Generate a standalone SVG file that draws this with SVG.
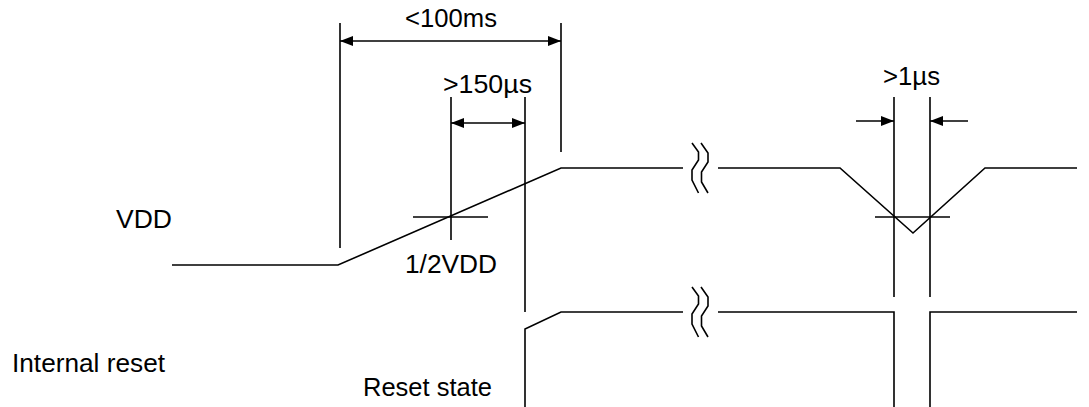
<svg xmlns="http://www.w3.org/2000/svg" width="1089" height="407" viewBox="0 0 1089 407">
<style>
.w{fill:none;stroke:#000;stroke-width:1.6;stroke-linejoin:miter}
.t{font-family:"Liberation Sans",Arial,sans-serif;font-size:26px;fill:#000}
</style>
<defs>
<marker id="ah" viewBox="0 0 13 10" refX="13" refY="5" markerWidth="13" markerHeight="10" markerUnits="userSpaceOnUse" orient="auto-start-reverse">
<path d="M0,0 L13,5 L0,10 Z" fill="#000"/>
</marker>
<g id="brk">
<polyline class="w" points="692,143 698.5,152 698.5,160 692,170 692,180 698.5,193"/>
<polyline class="w" points="701,143 708,153 708,162 701.5,172 701.5,182 708,193"/>
</g>
</defs>
<rect width="1089" height="407" fill="#fff"/>
<g id="labels">
<text class="t" x="116" y="228" textLength="56" lengthAdjust="spacingAndGlyphs">VDD</text>
<text class="t" x="12" y="372" textLength="153" lengthAdjust="spacingAndGlyphs">Internal reset</text>
<text class="t" x="363" y="396" textLength="129" lengthAdjust="spacingAndGlyphs">Reset state</text>
<text class="t" x="405" y="273" textLength="92" lengthAdjust="spacingAndGlyphs">1/2VDD</text>
<text class="t" x="405" y="27" textLength="92" lengthAdjust="spacingAndGlyphs">&lt;100ms</text>
<text class="t" x="443" y="93" textLength="89" lengthAdjust="spacingAndGlyphs">&gt;150µs</text>
<text class="t" x="883" y="85" textLength="57" lengthAdjust="spacingAndGlyphs">&gt;1µs</text>
</g>
<g id="vdd">
<polyline class="w" points="172,265 338,265 561,168 683,168"/>
<polyline class="w" points="718,168 840,168 913,233 985,168 1077,168"/>
<use href="#brk"/>
</g>
<g id="reset">
<polyline class="w" points="525,407 525,329 561,312 683,312"/>
<polyline class="w" points="718,312 894,312 894,407"/>
<polyline class="w" points="930,407 930,312 1077,312"/>
<use href="#brk" transform="translate(0,144)"/>
</g>
<g id="connectors">
<line class="w" x1="340" y1="23" x2="340" y2="248"/>
<line class="w" x1="561" y1="23" x2="561" y2="152"/>
<line class="w" x1="340" y1="41" x2="561" y2="41" marker-start="url(#ah)" marker-end="url(#ah)"/>
<line class="w" x1="451" y1="97" x2="451" y2="240"/>
<line class="w" x1="525" y1="97" x2="525" y2="312"/>
<line class="w" x1="451" y1="123" x2="525" y2="123" marker-start="url(#ah)" marker-end="url(#ah)"/>
<line class="w" x1="413" y1="217" x2="488" y2="217"/>
<line class="w" x1="894" y1="97" x2="894" y2="297"/>
<line class="w" x1="930" y1="97" x2="930" y2="297"/>
<line class="w" x1="875" y1="217" x2="950" y2="217"/>
<line class="w" x1="856" y1="121" x2="894" y2="121" marker-end="url(#ah)"/>
<line class="w" x1="968" y1="121" x2="930" y2="121" marker-end="url(#ah)"/>
</g>
</svg>
